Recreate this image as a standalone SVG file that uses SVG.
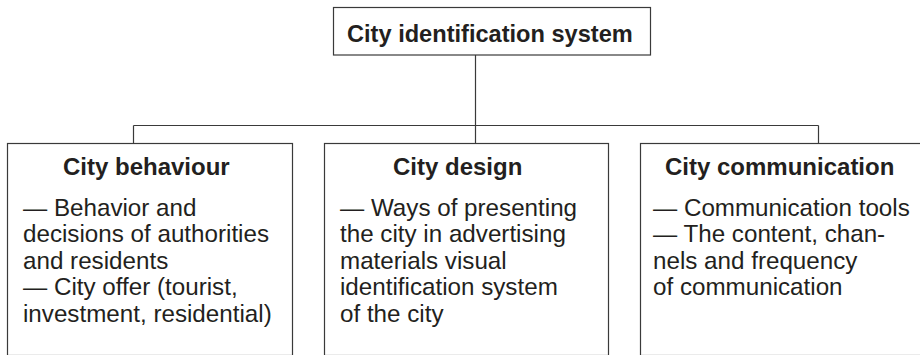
<svg xmlns="http://www.w3.org/2000/svg" width="920" height="355" viewBox="0 0 920 355">
  <style>
    .box { fill: #ffffff; stroke: #3a3a3a; stroke-width: 1.2; }
    .wire { fill: none; stroke: #3a3a3a; stroke-width: 1.2; }
    .title { font-family: "Liberation Sans", Arial, sans-serif; font-weight: bold; font-size: 23.6px; fill: #231f20; }
    .head { font-family: "Liberation Sans", Arial, sans-serif; font-weight: bold; font-size: 24px; fill: #231f20; }
    .body { font-family: "Liberation Sans", Arial, sans-serif; font-size: 24.2px; fill: #231f20; }
  </style>
  <rect width="920" height="355" fill="#ffffff"/>

  <!-- tree connectors -->
  <g id="connectors">
    <path class="wire" d="M475.5 55 V125.5"/>
    <path class="wire" d="M133.5 125.5 H818.5"/>
    <path class="wire" d="M133.5 125.5 V143.5"/>
    <path class="wire" d="M475.5 125.5 V143.5"/>
    <path class="wire" d="M818.5 125.5 V143.5"/>
  </g>

  <!-- root -->
  <g id="root">
    <rect class="box" x="333.5" y="7.5" width="317" height="47.5" stroke-width="1.5"/>
    <text class="title" x="347" y="41.5">City identification system</text>
  </g>

  <!-- left branch -->
  <g id="behaviour">
    <rect class="box" x="7.5" y="143.5" width="285" height="212"/>
    <text class="head" x="63" y="175">City behaviour</text>
    <text class="body" x="23" y="215.5">— Behavior and</text>
    <text class="body" x="23" y="242">decisions of authorities</text>
    <text class="body" x="23" y="268.5">and residents</text>
    <text class="body" x="23" y="295">— City offer (tourist,</text>
    <text class="body" x="23" y="321.5">investment, residential)</text>
  </g>

  <!-- middle branch -->
  <g id="design">
    <rect class="box" x="324.5" y="143.5" width="284" height="212"/>
    <text class="head" x="393" y="175">City design</text>
    <text class="body" x="340" y="215.5">— Ways of presenting</text>
    <text class="body" x="340" y="242">the city in advertising</text>
    <text class="body" x="340" y="268.5">materials visual</text>
    <text class="body" x="340" y="295">identification system</text>
    <text class="body" x="340" y="321.5">of the city</text>
  </g>

  <!-- right branch -->
  <g id="communication">
    <rect class="box" x="640.5" y="143.5" width="290" height="212"/>
    <text class="head" x="665" y="175">City communication</text>
    <text class="body" x="653" y="215.5">— Communication tools</text>
    <text class="body" x="653" y="242">— The content, chan-</text>
    <text class="body" x="653" y="268.5">nels and frequency</text>
    <text class="body" x="653" y="295">of communication</text>
  </g>
</svg>
